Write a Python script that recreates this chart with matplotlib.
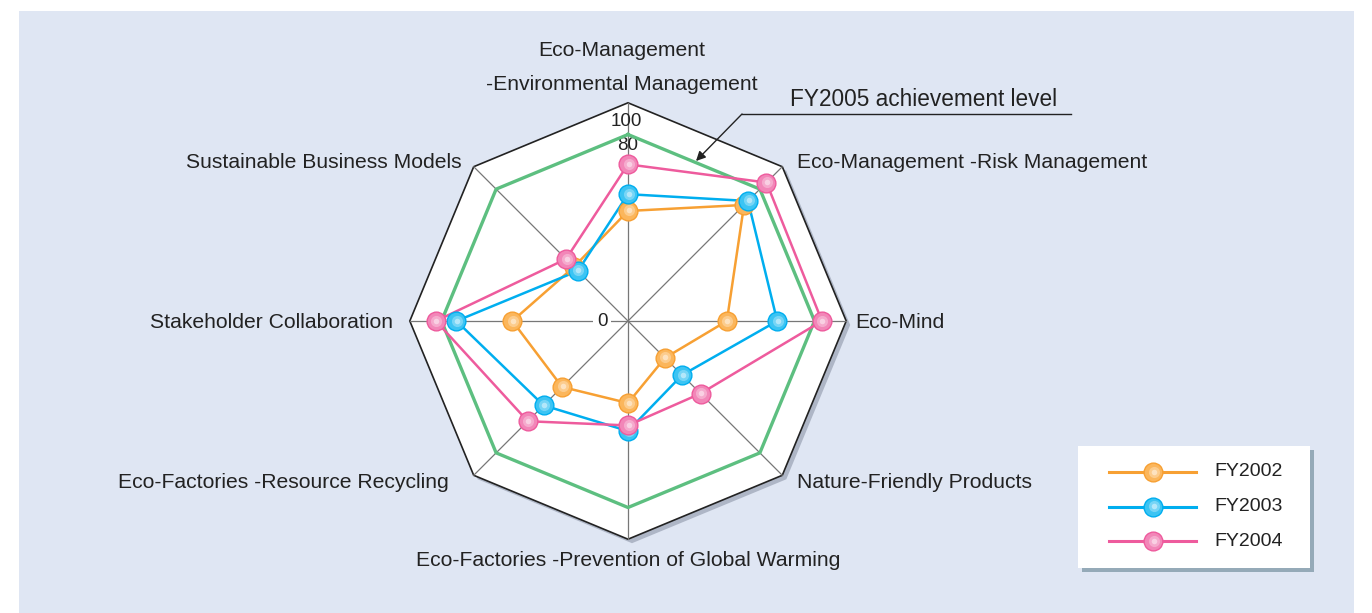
import numpy as np
import matplotlib
matplotlib.use("Agg")
import matplotlib.pyplot as plt
from matplotlib.patches import Polygon, Rectangle

plt.rcParams['font.family'] = ['Liberation Sans', 'DejaVu Sans']

# ---- data (green line = FY2005 target = 100) ----
categories = [
    "Eco-Management\n-Environmental Management",
    "Eco-Management -Risk Management",
    "Eco-Mind",
    "Nature-Friendly Products",
    "Eco-Factories -Prevention of Global Warming",
    "Eco-Factories -Resource Recycling",
    "Stakeholder Collaboration",
    "Sustainable Business Models",
]
fy2002 = [59, 88, 53, 28, 44, 50, 62, 41]
fy2003 = [68, 91, 80, 41, 59, 64, 92, 38]
fy2004 = [84, 105, 104, 55, 56, 76, 103, 47]
fy2005_target = [100] * 8
outer_level = 117
series_names = ["FY2002", "FY2003", "FY2004"]

# ---- styling ----
bg = "#dfe6f3"
c_orange = "#f7a033"
c_blue = "#00aeef"
c_pink = "#ee5b9d"
c_green = "#5dbf80"
face = {c_orange: "#fbb65c", c_blue: "#3cc4f3", c_pink: "#f286b8"}

fig = plt.figure(figsize=(13.72, 6.13), dpi=100)
ax = fig.add_axes([0, 0, 1, 1])
ax.set_xlim(0, 1372)
ax.set_ylim(613, 0)
ax.axis('off')

ax.add_patch(Rectangle((19, 11), 1335, 610, facecolor=bg, edgecolor='none', zorder=0))

cx, cy = 628, 321
k = 1.865  # px per unit
theta = np.arange(8) * 2 * np.pi / 8


def to_xy(vals):
    v = np.asarray(vals, dtype=float)
    return cx + k * v * np.sin(theta), cy - k * v * np.cos(theta)


def ball(x, y, col, z):
    # sphere-like marker: coloured ball with soft highlight
    ax.plot(x, y, 'o', ms=13.5, mfc=face[col], mec=col, mew=1.0, zorder=z)
    ax.plot(np.asarray(x) + 0.5, np.asarray(y) - 0.5, 'o', ms=8, mfc='white',
            mec='none', alpha=0.3, zorder=z + 0.1)
    ax.plot(np.asarray(x) + 0.5, np.asarray(y) - 0.5, 'o', ms=4, mfc='white',
            mec='none', alpha=0.45, zorder=z + 0.2)


# outer octagon with shadow
ox, oy = to_xy([outer_level] * 8)
ax.add_patch(Polygon(np.c_[ox + 4, oy + 4], closed=True, facecolor='#aeb6c6',
                     edgecolor='none', zorder=1))
ax.add_patch(Polygon(np.c_[ox, oy], closed=True, facecolor='white',
                     edgecolor='#222222', lw=1.2, zorder=2))

# spokes
for xx, yy in zip(ox, oy):
    ax.plot([cx, xx], [cy, yy], color='#777777', lw=0.9, zorder=3)

# scale labels
tc = '#222222'
ax.text(626, 122, "100", ha='center', va='center', fontsize=13.5, color=tc, zorder=4)
ax.text(628, 145, "80", ha='center', va='center', fontsize=13.5, color=tc, zorder=4)
ax.text(602, 322, "0", ha='center', va='center', fontsize=13.5, color=tc, zorder=4,
        bbox=dict(boxstyle='square,pad=0.2', facecolor='white', edgecolor='none'))

# target line
gx, gy = to_xy(fy2005_target)
ax.plot(np.r_[gx, gx[0]], np.r_[gy, gy[0]], color=c_green, lw=2.4, zorder=5)

# series
z = 7
for vals, col in [(fy2002, c_orange), (fy2003, c_blue), (fy2004, c_pink)]:
    x, y = to_xy(vals)
    ax.plot(np.r_[x, x[0]], np.r_[y, y[0]], color=col, lw=1.8, zorder=6)
    ball(x, y, col, z)
    z += 1

# category labels
fs = 15.2
ax.text(622, 67, categories[0], ha='center', va='center', fontsize=fs, color=tc,
        linespacing=2.0)
ax.text(797, 163, categories[1], ha='left', va='center', fontsize=fs, color=tc)
ax.text(855, 322, categories[2], ha='left', va='center', fontsize=fs, color=tc)
ax.text(797, 482, categories[3], ha='left', va='center', fontsize=fs, color=tc)
ax.text(628, 560, categories[4], ha='center', va='center', fontsize=fs, color=tc)
ax.text(449, 482, categories[5], ha='right', va='center', fontsize=fs, color=tc)
ax.text(393, 322, categories[6], ha='right', va='center', fontsize=fs, color=tc)
ax.text(462, 163, categories[7], ha='right', va='center', fontsize=fs, color=tc)

# FY2005 annotation
ax.text(790, 100, "FY2005 achievement level", ha='left', va='center', fontsize=16.3, color=tc)
ax.plot([742, 1071], [114, 114], color='#222222', lw=1.0, zorder=4)
ax.annotate("", xy=(696, 161), xytext=(742, 114),
            arrowprops=dict(arrowstyle='-|>', color='#222222', lw=1.0,
                            mutation_scale=14, shrinkA=0, shrinkB=0), zorder=12)

# legend box
ax.add_patch(Rectangle((1082, 450), 232, 122, facecolor='#95aab8', edgecolor='none', zorder=1))
ax.add_patch(Rectangle((1078, 446), 232, 122, facecolor='white', edgecolor='none', zorder=2))
for i, (name, col) in enumerate(zip(series_names, [c_orange, c_blue, c_pink])):
    yy = 472 + i * 34.5
    ax.plot([1109, 1196], [yy, yy], color=col, lw=2.2, zorder=3)
    ball([1153], [yy], col, 4)
    ax.text(1214, yy, name, ha='left', va='center', fontsize=14, color=tc, zorder=5)

fig.savefig("out.png", dpi=100)
